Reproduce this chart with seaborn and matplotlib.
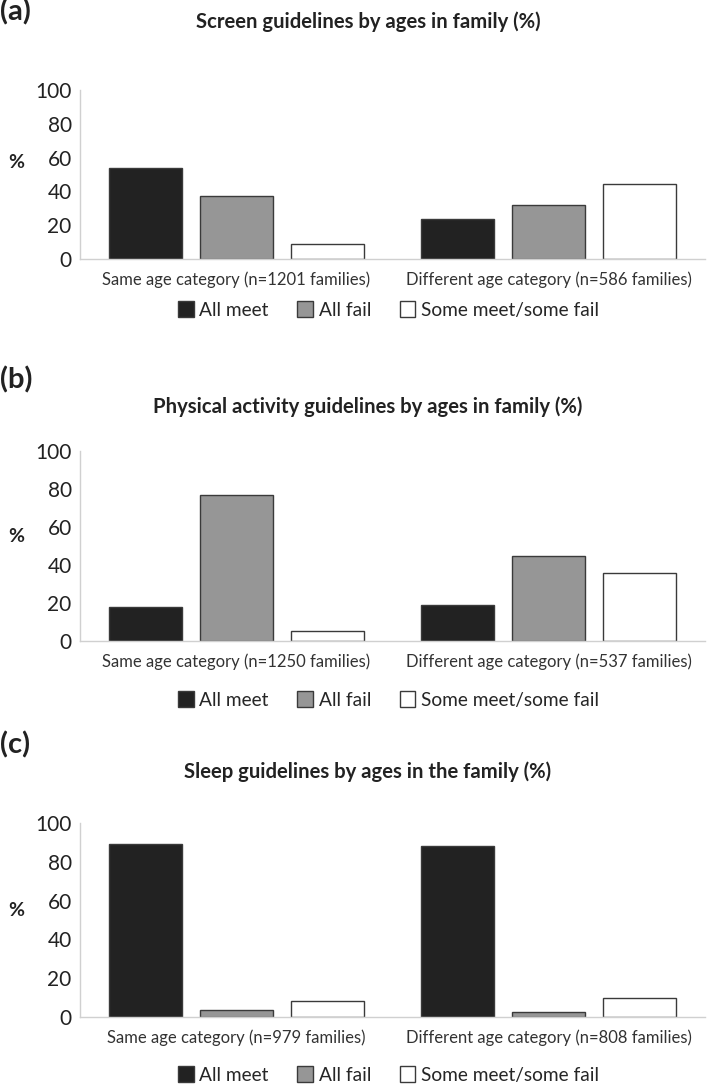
import numpy as np
import pandas as pd
import matplotlib
matplotlib.use("Agg")
import matplotlib.pyplot as plt
import seaborn as sns
from matplotlib.patches import Patch

sns.set_style("white")
plt.rcParams['font.family'] = ['Lato', 'DejaVu Sans']

# data
status = ['All meet', 'All fail', 'Some meet/some fail']
screen_groups = ['Same age category (n=1201 families)', 'Different age category (n=586 families)']
screen_same = [54, 37, 9]
screen_diff = [23.5, 32, 44.5]

pa_groups = ['Same age category (n=1250 families)', 'Different age category (n=537 families)']
pa_same = [18, 77, 5.5]
pa_diff = [19, 45, 36]

sleep_groups = ['Same age category (n=979 families)', 'Different age category (n=808 families)']
sleep_same = [89, 3.5, 8]
sleep_diff = [88, 2.5, 10]

panels = [
    ('(a)', 'Screen guidelines by ages in family (%)', screen_groups, screen_same, screen_diff),
    ('(b)', 'Physical activity guidelines by ages in family (%)', pa_groups, pa_same, pa_diff),
    ('(c)', 'Sleep guidelines by ages in the family (%)', sleep_groups, sleep_same, sleep_diff),
]

colors = {'All meet': '#222222', 'All fail': '#969696', 'Some meet/some fail': '#ffffff'}
edge = '#3a3a3a'
spine_col = '#d0d0d0'

W, H = 709, 1090
fig = plt.figure(figsize=(W / 100, H / 100), dpi=100)

# axes boxes in pixels: (top, bottom), plus label / legend / title positions
boxes = [
    dict(top=90, bottom=259, title=22, tag=12, legend=310, pct=163),
    dict(top=451, bottom=641, title=407, tag=380, legend=700, pct=537),
    dict(top=823, bottom=1017, title=772, tag=745, legend=1075, pct=910),
]
left_px, right_px = 80, 705

for (tag, title, groups, same, diff), b in zip(panels, boxes):
    ax = fig.add_axes([left_px / W, 1 - b['bottom'] / H,
                       (right_px - left_px) / W, (b['bottom'] - b['top']) / H])
    df = pd.DataFrame({
        'group': [groups[0]] * 3 + [groups[1]] * 3,
        'status': status * 2,
        'value': same + diff,
    })
    sns.barplot(data=df, x='group', y='value', hue='status', order=groups,
                hue_order=status, palette=colors, width=0.875, gap=0.2,
                edgecolor=edge, linewidth=1.0, legend=False, ax=ax)
    ax.set_ylim(0, 100)
    ax.set_xlim(-0.5, 1.5)
    ax.set_yticks([0, 20, 40, 60, 80, 100])
    ax.tick_params(axis='y', labelsize=15, length=0, pad=6, labelcolor='#222222')
    ax.tick_params(axis='x', labelsize=12, length=0, pad=9, labelcolor='#333333')
    ax.set_xlabel('')
    ax.set_ylabel('')
    for s in ['top', 'right']:
        ax.spines[s].set_visible(False)
    for s in ['left', 'bottom']:
        ax.spines[s].set_color(spine_col)
        ax.spines[s].set_linewidth(1.0)

    fig.text(8 / W, 1 - b['pct'] / H, '%', ha='left', va='center',
             fontsize=14, fontweight='bold', color='#222222')
    fig.text(368 / W, 1 - b['title'] / H, title,
             ha='center', va='center', fontsize=14.6, fontweight='bold', color='#222222')
    fig.text(0 / W, 1 - b['tag'] / H, tag, ha='left', va='center',
             fontsize=21, fontweight='bold', color='#222222')

    handles = [Patch(facecolor=colors[k], edgecolor=edge, linewidth=1.0, label=k)
               for k in status]
    fig.legend(handles=handles, loc='center', bbox_to_anchor=(0.548, 1 - b['legend'] / H),
               ncol=3, frameon=False, fontsize=13.8, handlelength=0.8, handleheight=0.9,
               handletextpad=0.3, columnspacing=1.5)

fig.savefig('out.png', dpi=100)
